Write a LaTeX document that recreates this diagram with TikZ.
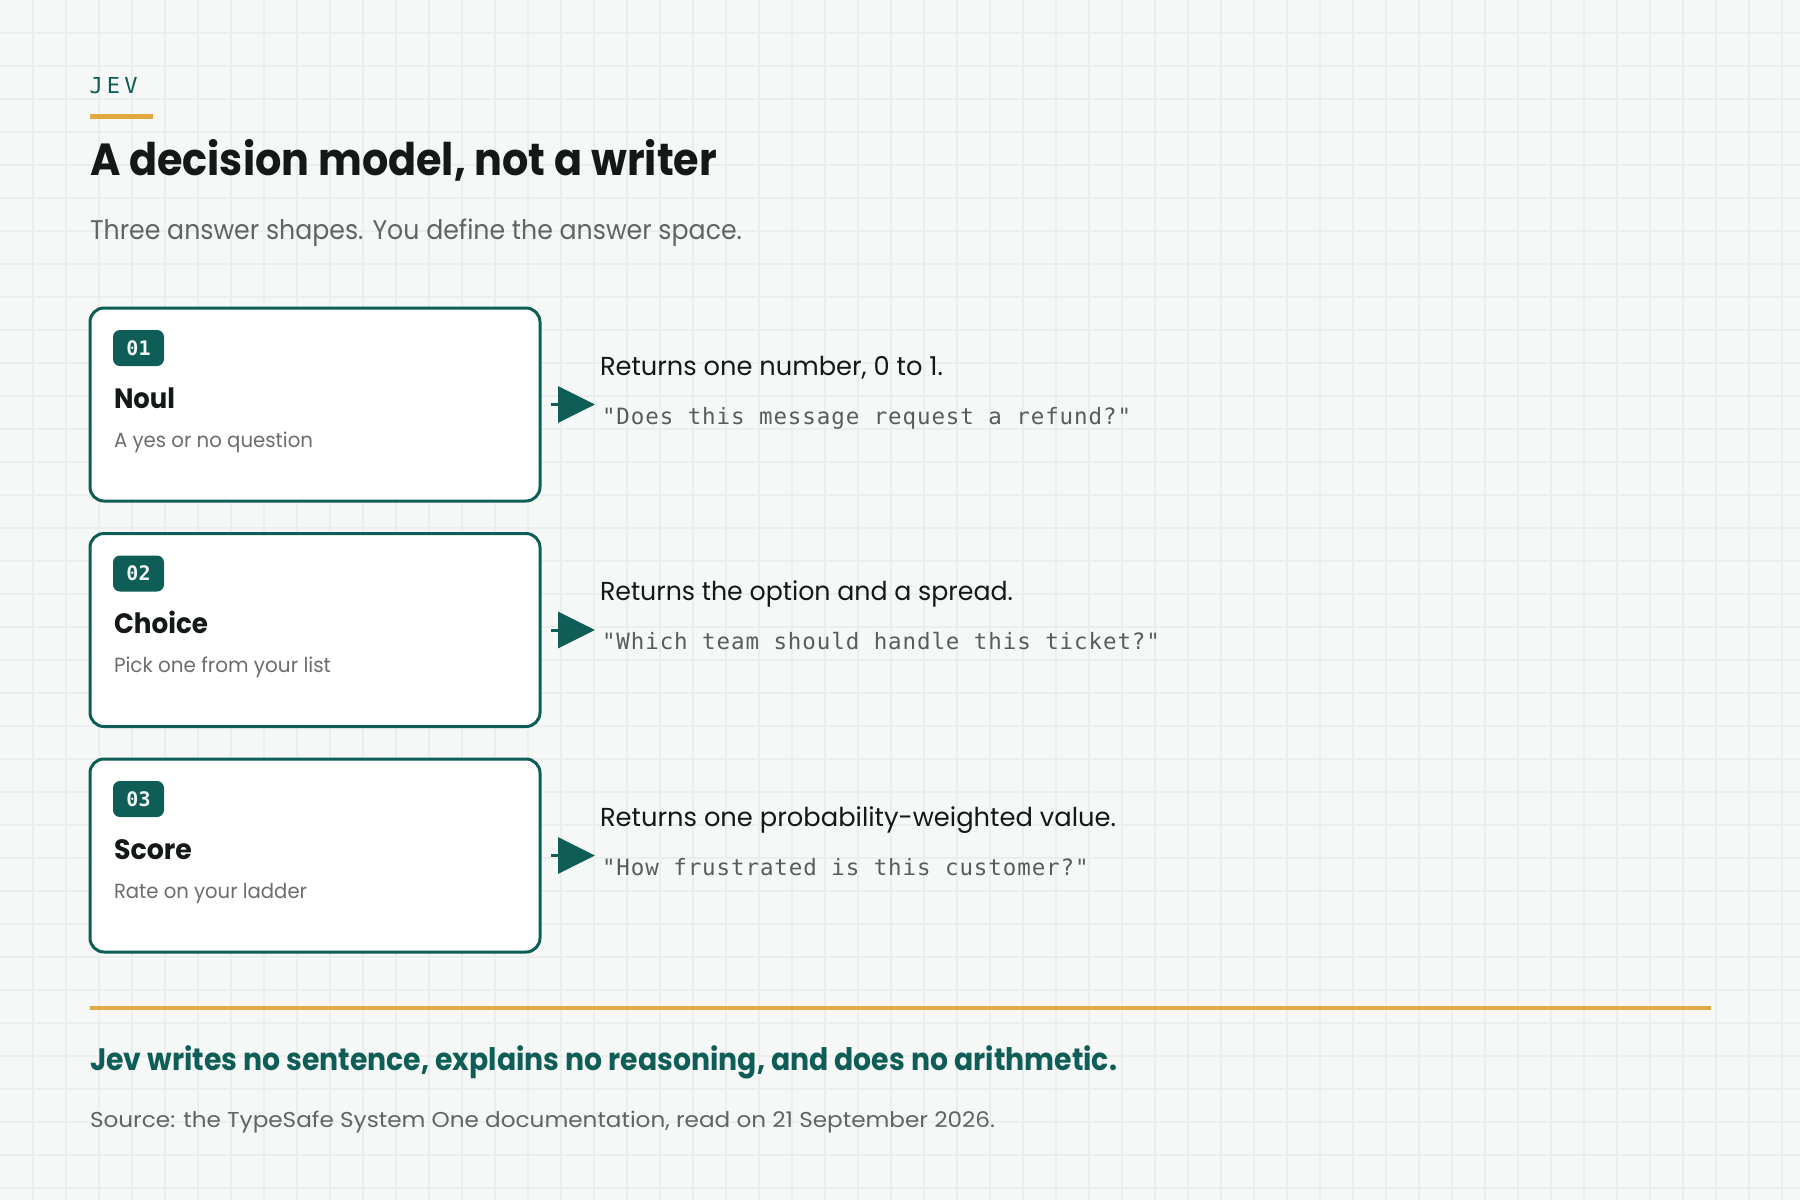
\documentclass[tikz,border=0pt]{standalone}
\usepackage{fontspec}
\usepackage{graphicx}
\usetikzlibrary{arrows.meta}
\setmainfont{Poppins}
\newfontfamily\monofont{DejaVu Sans Mono}
\newfontfamily\jevfont[LetterSpace=19]{DejaVu Sans Mono}
\newfontfamily\quotefont[LetterSpace=4.0]{DejaVu Sans Mono}
\definecolor{jteal}{HTML}{0E5D56}
\definecolor{jorange}{HTML}{E3A940}
\definecolor{bgc}{HTML}{F6F8F7}
\definecolor{gridc}{HTML}{EAEFED}
\definecolor{inkc}{HTML}{141917}
\definecolor{subc}{HTML}{5E6562}
\definecolor{descc}{HTML}{6A6E6C}
\definecolor{quotec}{HTML}{585D5B}
\definecolor{badgetext}{HTML}{EEF5F3}
\newlength\fitlen
\newcommand\fitto[2]{\settowidth\fitlen{#2}\pgfmathsetmacro\fitfac{#1/\fitlen}\scalebox{\fitfac}[1]{#2}}
\newcommand\titlesize{\fontsize{45}{50}\selectfont\bfseries}
\newcommand\subsize{\fontsize{27}{30}\selectfont}
\newcommand\headsize{\fontsize{28}{30}\selectfont\bfseries}
\newcommand\descsize{\fontsize{20.5}{24}\selectfont}
\newcommand\rightsize{\fontsize{26}{30}\selectfont}
\newcommand\quotesize{\quotefont\fontsize{22.5}{24}\selectfont}
\newcommand\footsize{\fontsize{31}{34}\selectfont\bfseries}
\newcommand\srcsize{\fontsize{21.5}{24}\selectfont}
\tikzset{
  txt/.style={anchor=base west, inner sep=0pt, outer sep=0pt},
  card/.style={draw=jteal, line width=3pt, fill=white, rounded corners=14pt,
    minimum width=450pt, minimum height=193pt, inner sep=0pt},
  badge/.style={fill=jteal, rounded corners=7pt, minimum width=51pt,
    minimum height=36pt, inner sep=0pt, text=badgetext,
    font=\monofont\fontsize{20}{20}\selectfont\bfseries},
  arr/.style={draw=jteal, line width=3pt, -{Triangle[length=37pt,width=36pt]}},
  gridline/.style={draw=gridc, line width=1.5pt},
}
\begin{document}
\begin{tikzpicture}[x=1pt, y=-1pt]
\useasboundingbox (0,0) rectangle (1800,1200);
\fill[bgc] (0,0) rectangle (1800,1200);
\foreach \i in {1,...,54} \draw[gridline] ({33*\i},0) -- ({33*\i},1200);
\foreach \j in {1,...,36} \draw[gridline] (0,{33*\j}) -- (1800,{33*\j});

% header
\node[txt, text=jteal] (jev) at (89.5,93) {\jevfont\fontsize{22}{22}\selectfont JEV};
\fill[jorange] (90,114) rectangle (153,119);
\node[txt, text=inkc] (title) at (90,175) {\fitto{627}{\titlesize A decision model, not a writer}};
\node[txt, text=subc] (sub) at (90,239) {\fitto{652}{\subsize Three answer shapes. You define the answer space.}};

% card 1
\node[card] (b1) at (315,404.5) {};
\node[badge] (g1) at (138.5,348) {01};
\node[txt, text=inkc] (h1) at (114,408) {\fitto{61}{\headsize Noul}};
\node[txt, text=descc] (d1) at (114,447) {\fitto{199}{\descsize A yes or no question}};
\node[txt, text=inkc] (r1) at (600,375) {\fitto{343}{\rightsize Returns one number, 0 to 1.}};
\node[txt, text=quotec] (q1) at (602,424) {\quotesize "Does this message request a refund?"};
\coordinate (e1) at (595,404.5);
\draw[arr] ([xshift=9pt]b1.east) -- (e1);

% card 2
\node[card] (b2) at (315,630) {};
\node[badge] (g2) at (138.5,573.5) {02};
\node[txt, text=inkc] (h2) at (114,633.5) {\fitto{94}{\headsize Choice}};
\node[txt, text=descc] (d2) at (114,672.5) {\fitto{217}{\descsize Pick one from your list}};
\node[txt, text=inkc] (r2) at (600,600.5) {\fitto{413}{\rightsize Returns the option and a spread.}};
\node[txt, text=quotec] (q2) at (602,649.5) {\quotesize "Which team should handle this ticket?"};
\coordinate (e2) at (595,630);
\draw[arr] ([xshift=9pt]b2.east) -- (e2);

% card 3
\node[card] (b3) at (315,855.5) {};
\node[badge] (g3) at (138.5,799) {03};
\node[txt, text=inkc] (h3) at (114,859) {\fitto{78}{\headsize Score}};
\node[txt, text=descc] (d3) at (114,898) {\fitto{193}{\descsize Rate on your ladder}};
\node[txt, text=inkc] (r3) at (600,826) {\fitto{516}{\rightsize Returns one probability-weighted value.}};
\node[txt, text=quotec] (q3) at (602,875) {\quotesize "How frustrated is this customer?"};
\coordinate (e3) at (595,855.5);
\draw[arr] ([xshift=9pt]b3.east) -- (e3);

% footer
\coordinate (fl) at (90,1008);
\coordinate (fr) at (1711,1008);
\draw[jorange, line width=4pt] (fl) -- (fr);
\node[txt, text=jteal] (foot) at (90,1070) {\fitto{1027}{\footsize Jev writes no sentence, explains no reasoning, and does no arithmetic.}};
\node[txt, text=subc] (src) at (90,1127) {\fitto{905}{\srcsize Source: the TypeSafe System One documentation, read on 21 September 2026.}};
\end{tikzpicture}
\end{document}
